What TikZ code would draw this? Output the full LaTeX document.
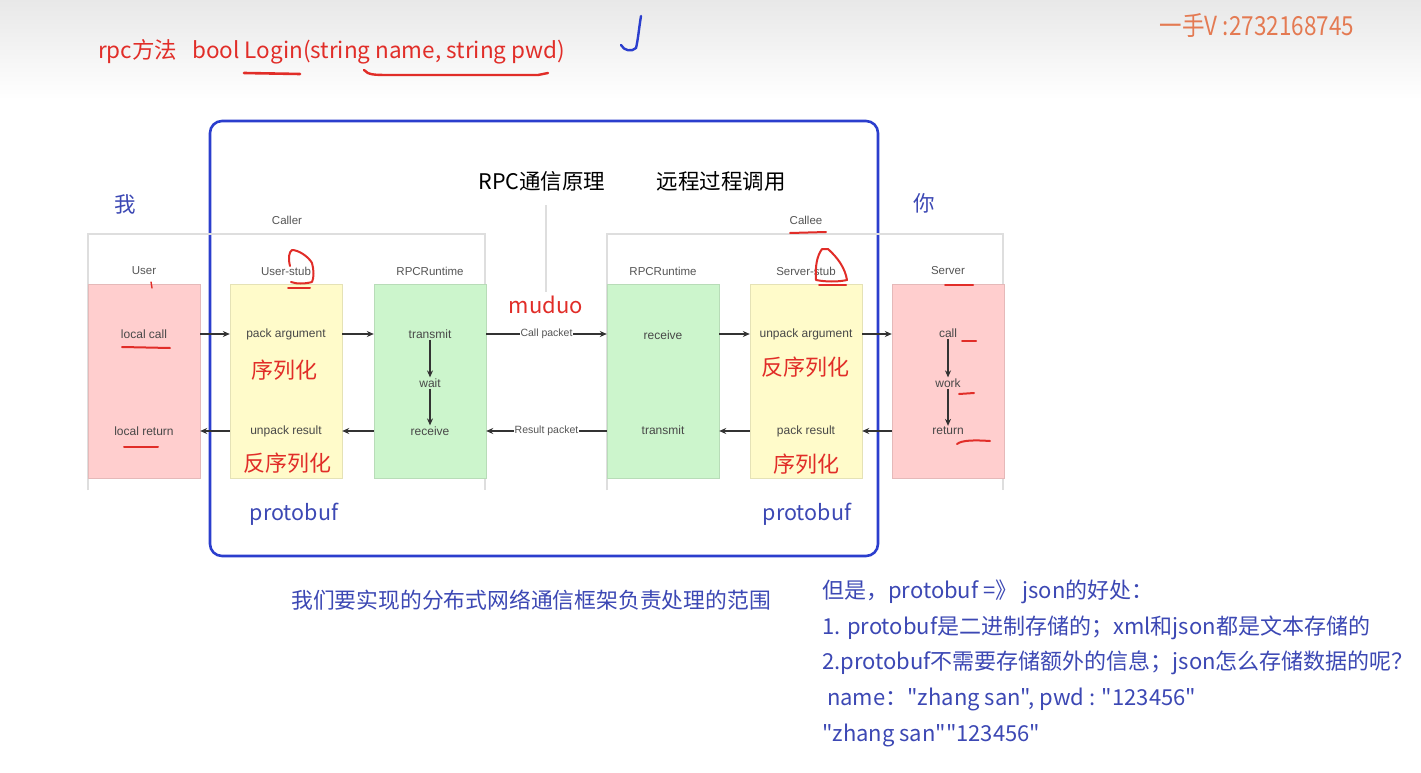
\documentclass[tikz,border=0pt]{standalone}
\usepackage{fontspec}
\setmainfont{Liberation Sans}
\newfontfamily\cjk{Noto Sans CJK SC}
\usetikzlibrary{arrows.meta}
\definecolor{redtxt}{RGB}{225,45,40}
\definecolor{bluetxt}{RGB}{60,72,180}
\definecolor{bluebox}{RGB}{43,62,205}
\definecolor{pinkc}{RGB}{255,206,206}
\definecolor{yellowc}{RGB}{255,251,202}
\definecolor{greenc}{RGB}{204,245,204}
\definecolor{orangec}{RGB}{228,122,82}
\definecolor{framec}{RGB}{222,222,222}
\definecolor{labc}{RGB}{85,85,85}
\tikzset{
  x=1pt,y=-1pt,
  lab/.style={font=\fontsize{11.5}{13}\selectfont, text=labc, inner sep=1pt},
  intext/.style={font=\fontsize{12}{14}\selectfont, text=labc!85!black, inner sep=1pt},
  colbox/.style={draw=#1!90!black, line width=0.4pt, fill=#1, minimum width=112pt, minimum height=194pt, inner sep=0pt},
  frame/.style={draw=framec, line width=1.4pt},
  arr/.style={draw=black!80, line width=1.2pt, -{Stealth[length=7pt,width=6pt]}},
  redcn/.style={font=\cjk\fontsize{22}{24}\selectfont, text=redtxt, inner sep=0pt},
  bluelat/.style={font=\cjk\fontsize{21.5}{24}\selectfont, text=bluetxt, inner sep=0pt},
  blkcn/.style={font=\cjk\fontsize{21.5}{24}\selectfont, text=black, inner sep=0pt},
  note/.style={font=\cjk\fontsize{22}{26}\selectfont, text=bluetxt, anchor=west, inner sep=0pt},
  pen/.style={draw=redtxt, line width=2pt, line cap=round, line join=round},
  pktlab/.style={font=\fontsize{10.5}{12}\selectfont, text=labc, fill=white, inner sep=1pt}
}
\begin{document}
\begin{tikzpicture}
\useasboundingbox (0,0) rectangle (1421,773);
\fill[white] (0,0) rectangle (1421,773);
\shade[top color=black!9, bottom color=white] (0,0) rectangle (1421,100);

% top line
\node[font=\cjk\fontsize{22.5}{26}\selectfont, text=redtxt, anchor=west, inner sep=0pt] (sig) at (98,52) {rpc方法\hspace{15pt}bool Login(string name, string pwd)};
\node[font=\cjk\fontsize{25}{28}\selectfont, text=orangec, inner sep=0pt] (wm) at (1257,26) {\scalebox{0.9}[1.05]{一手V :2732168745}};

% scope box
\draw[draw=bluebox, line width=2.6pt, rounded corners=12pt] (210,121) rectangle (878,556);

% titles
\node[blkcn] (t1) at (542,181) {RPC通信原理};
\node[blkcn] (t2) at (721,181) {远程过程调用};
\node[bluelat] (me) at (125,204) {我};
\node[bluelat] (you) at (924,203) {你};
\node[lab] (caller) at (287,220) {Caller};
\node[lab] (callee) at (806,220) {Callee};

% frames
\draw[frame] (88,490) -- (88,234) -- (485,234) -- (485,490);
\draw[frame] (607,490) -- (607,234) -- (1003,234) -- (1003,490);
\draw[draw=framec, line width=1.2pt] (546,205) -- (546,292);

% column labels
\node[lab] (l1) at (144,271) {User};
\node[lab] (l2) at (286,271) {User-stub};
\node[lab] (l3) at (430,271) {RPCRuntime};
\node[lab] (l4) at (663,271) {RPCRuntime};
\node[lab] (l5) at (806,271) {Server-stub};
\node[lab] (l6) at (948,271) {Server};

% boxes
\node[colbox=pinkc] (user) at (144,381) {};
\node[colbox=yellowc] (ustub) at (286,381) {};
\node[colbox=greenc] (crt) at (430,381) {};
\node[colbox=greenc] (srt) at (663,381) {};
\node[colbox=yellowc] (sstub) at (806,381) {};
\node[colbox=pinkc] (server) at (948,381) {};

% inner texts
\node[intext] (lc) at (144,334) {local call};
\node[intext] (lr) at (144,431) {local return};
\node[intext] (pa) at (286,334) {pack argument};
\node[intext] (ur) at (286,431) {unpack result};
\node[intext] (ctx) at (430,334) {transmit};
\node[intext] (cw) at (430,383) {wait};
\node[intext] (crx) at (430,431) {receive};
\node[intext] (srx) at (663,335) {receive};
\node[intext] (stx) at (663,430) {transmit};
\node[intext] (ua) at (806,334) {unpack argument};
\node[intext] (pr) at (806,431) {pack result};
\node[intext] (sc) at (948,333) {call};
\node[intext] (sw) at (948,383) {work};
\node[intext] (sr) at (948,431) {return};

% vertical arrows
\draw[arr] (ctx.south) -- (cw.north);
\draw[arr] (cw.south) -- (crx.north);
\draw[arr] (sc.south) -- (sw.north);
\draw[arr] (sw.south) -- (sr.north);

% forward arrows
\draw[arr] (user.east |- lc) -- (ustub.west |- lc);
\draw[arr] (ustub.east |- lc) -- (crt.west |- lc);
\draw[arr] (crt.east |- lc) -- node[pktlab] (cp) {Call packet} (srt.west |- lc);
\draw[arr] (srt.east |- lc) -- (sstub.west |- lc);
\draw[arr] (sstub.east |- lc) -- (server.west |- lc);
% backward arrows
\draw[arr] (server.west |- ur) -- (sstub.east |- ur);
\draw[arr] (sstub.west |- ur) -- (srt.east |- ur);
\draw[arr] (srt.west |- ur) -- node[pktlab] (rp) {Result packet} (crt.east |- ur);
\draw[arr] (crt.west |- ur) -- (ustub.east |- ur);
\draw[arr] (ustub.west |- ur) -- (user.east |- ur);

% red annotations
\node[redcn] (s1) at (284,370) {序列化};
\node[redcn] (d1) at (287,463) {反序列化};
\node[redcn] (d2) at (805,367) {反序列化};
\node[redcn] (s2) at (806,464) {序列化};
\node[font=\cjk\fontsize{22}{24}\selectfont, text=redtxt, inner sep=0pt] (muduo) at (546,305) {muduo};

\node[bluelat] (pb1) at (294,514) {protobuf};
\node[bluelat] (pb2) at (807,514) {protobuf};
\node[font=\cjk\fontsize{21.8}{24}\selectfont, text=bluetxt, inner sep=0pt] (scope) at (531,600) {我们要实现的分布式网络通信框架负责处理的范围};

% notes
\node[note] (n1) at (822,592) {但是，protobuf =》 json的好处：};
\node[note] (n2) at (822,628) {1. protobuf是二进制存储的；xml和json都是文本存储的};
\node[note] (n3) at (822,663) {2.protobuf不需要存储额外的信息；json怎么存储数据的呢？};
\node[note] (n4) at (822,699) {\ name："zhang san", pwd : "123456"};
\node[note] (n5) at (822,735) {"zhang san""123456"};

% handwritten marks
\draw[pen, line width=2.6pt] (244,73) -- (300,74);
\draw[pen, line width=2.4pt] (364,70) .. controls (368,75) and (375,75) .. (390,75) -- (538,75) -- (548,73);
\draw[draw=bluebox, line width=2.4pt, line cap=round] (641,16) .. controls (639,28) and (638,40) .. (636,48) .. controls (632,52) and (624,51) .. (621,45);
\draw[pen] (790,233) -- (826,232);
\draw[pen] (122,347) -- (170,348);
\draw[pen] (124,447) -- (158,447);
\draw[pen] (945,285) -- (973,285);
\draw[pen] (962,341) -- (976,341);
\draw[pen] (959,394) -- (974,393);
\draw[pen] (957,444) .. controls (962,440) and (975,440) .. (990,441);
\draw[pen, line width=1.4pt] (151,282) -- (152,288);
\draw[pen] (290,266) .. controls (288,258) and (289,252) .. (292,250) .. controls (298,250) and (308,256) .. (312,263) .. controls (314,270) and (314,278) .. (312,282) .. controls (305,284) and (296,284) .. (291,282);
\draw[pen] (288,288) -- (310,288);
\draw[pen] (822,249) .. controls (817,256) and (815,266) .. (816,280) .. controls (826,282) and (838,282) .. (847,280) .. controls (845,268) and (838,258) .. (828,249) -- (822,249);
\draw[pen] (819,285) -- (846,285);
\end{tikzpicture}
\end{document}
